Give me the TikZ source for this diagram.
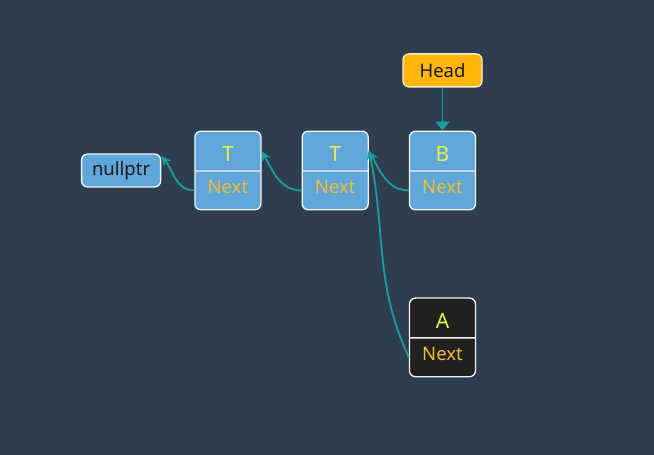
\documentclass[tikz,border=0pt]{standalone}
\usepackage{fontspec}
\setmainfont{Noto Sans}
\usetikzlibrary{positioning,shapes.multipart,arrows.meta}
\definecolor{bgslate}{HTML}{2F3E4F}
\definecolor{cellblue}{HTML}{5FA6DB}
\definecolor{celldark}{HTML}{212121}
\definecolor{headgold}{HTML}{FFB60A}
\definecolor{headline}{HTML}{F5F0D0}
\definecolor{nameyellow}{HTML}{E6F04A}
\definecolor{nextgold}{HTML}{F2BE2E}
\definecolor{linkteal}{HTML}{1A9E9E}
% value on top, next pointer below
\newcommand\cellparts[1]{%
  \rule[-9pt]{0pt}{38.5pt}{\fontsize{21}{24}\selectfont #1}%
  \nodepart{two}\rule[-16pt]{0pt}{37.5pt}\textcolor{nextgold}{Next}}
\tikzset{
  list node/.style={
    rectangle split,
    rectangle split parts=2,
    rounded corners=6pt,
    draw=white!92!gray,
    line width=1.3pt,
    fill=#1,
    text=nameyellow,
    minimum width=66pt,
    inner ysep=0pt,
    font=\fontsize{18.5}{20}\selectfont,
  },
  list node/.default=cellblue,
  tag box/.style={
    rounded corners=6pt,
    draw=#1,
    line width=1.3pt,
    minimum width=79pt,
    minimum height=33pt,
    text=black!90,
    font=\fontsize{18.5}{20}\selectfont,
  },
  link/.style={
    draw=linkteal,
    line width=1.8pt,
    -{Stealth[length=10pt,width=9pt]},
  },
}

\begin{document}
\begin{tikzpicture}[x=1pt,y=1pt,node distance=40pt]
        \path[use as bounding box, fill=bgslate] (0,0) rectangle (654,455);

        \node [list node] (b) at (442.5,284.5) {\cellparts{B}};
        \node [list node, left=of b] (t2) {\cellparts{T}};
        \node [list node, left=of t2] (t1) {\cellparts{T}};
        \node [tag box=white!92!gray, fill=cellblue, left=33pt of t1] (null) {nullptr};
        \node [tag box=headline, fill=headgold, above=43pt of b] (head) {Head};
        \node [list node=celldark, below=87pt of b] (a) {\cellparts{A}};

        % pointers
        \draw [link, -{Triangle[length=9pt,width=14pt]}] (head.south) -- (b.north);
        \draw [link] (b.two west) to[out=180, in=-60] (t2.text east);
        \draw [link] (t2.two west) to[out=180, in=-60] (t1.text east);
        \draw [link] (t1.two west) to[out=180, in=-50] (null.20);
        \draw [link] (a.two west) to[out=115, in=-78] ([yshift=1pt]t2.text east);
      \end{tikzpicture}
\end{document}
